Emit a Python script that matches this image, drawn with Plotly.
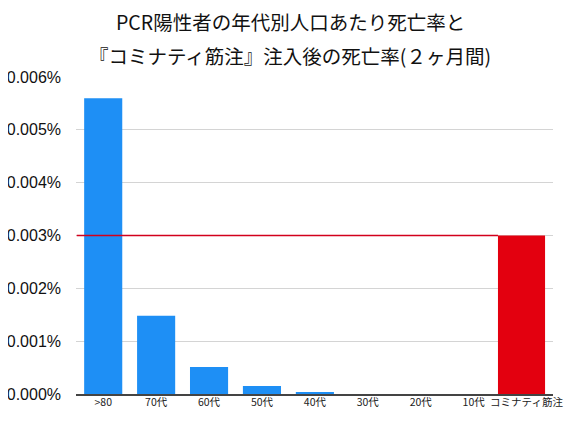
import plotly.graph_objects as go

# PCR陽性者の年代別死亡率 (%), 最後はコミナティ筋注後
categories = [">80", "70代", "60代", "50代", "40代", "30代", "20代", "10代", "コミナティ筋注"]
rates = [0.0056, 0.00148, 0.00051, 0.00015, 0.00004, 0.0, 0.0, 0.0, 0.003]
bar_colors = ["#1e8ff5"] * 8 + ["#e3000f"]
bar_widths = [0.72] * 8 + [0.89]
bar_offsets = [-0.36] * 8 + [-0.54]
y_ticks = [0, 0.001, 0.002, 0.003, 0.004, 0.005, 0.006]
y_labels = ["%.3f%%" % v for v in y_ticks]
title_lines = ["PCR陽性者の年代別人口あたり死亡率と", "『コミナティ筋注』注入後の死亡率(２ヶ月間)"]

font_jp = "Noto Sans CJK JP, Liberation Sans, sans-serif"

fig = go.Figure()
fig.add_trace(go.Bar(x=categories, y=rates, marker_color=bar_colors, width=bar_widths,
                     offset=bar_offsets, marker_line_width=0, hoverinfo="x+y"))

# 筋注後の死亡率の水平線
fig.add_shape(type="line", xref="x", yref="y", x0=-0.5, x1=8 + bar_offsets[8],
              y0=rates[8], y1=rates[8], line=dict(color="#d2001c", width=1.5), layer="above")

# タイトル (2行, 画像全体の中央)
for txt, ypos in zip(title_lines, [1.174, 1.069]):
    fig.add_annotation(text=txt, xref="paper", yref="paper", x=0.449, y=ypos,
                       xanchor="center", yanchor="middle", showarrow=False,
                       font=dict(family=font_jp, size=19.5, color="#111"))

# ページ本体の8px余白を見込んだサイズ (スクロールバーが出ないように)
fig.update_layout(
    width=558, height=406,
    margin=dict(l=68, r=13, t=69, b=20),
    paper_bgcolor="white", plot_bgcolor="white",
    showlegend=False,
    font=dict(family=font_jp, color="#111"),
)
fig.update_xaxes(showline=True, linecolor="#444", linewidth=2, showgrid=False,
                 tickfont=dict(size=10.5, color="#222"), ticks="", tickangle=0, automargin=False,
                 ticklabelstandoff=-3)
fig.update_yaxes(range=[0, 0.006], tickvals=y_ticks, ticktext=y_labels,
                 showgrid=True, gridcolor="#d4d4d4", gridwidth=1, zeroline=False,
                 tickfont=dict(family="Liberation Sans, sans-serif", size=16),
                 ticklabelstandoff=14, automargin=False)

fig.write_html("out.html")
